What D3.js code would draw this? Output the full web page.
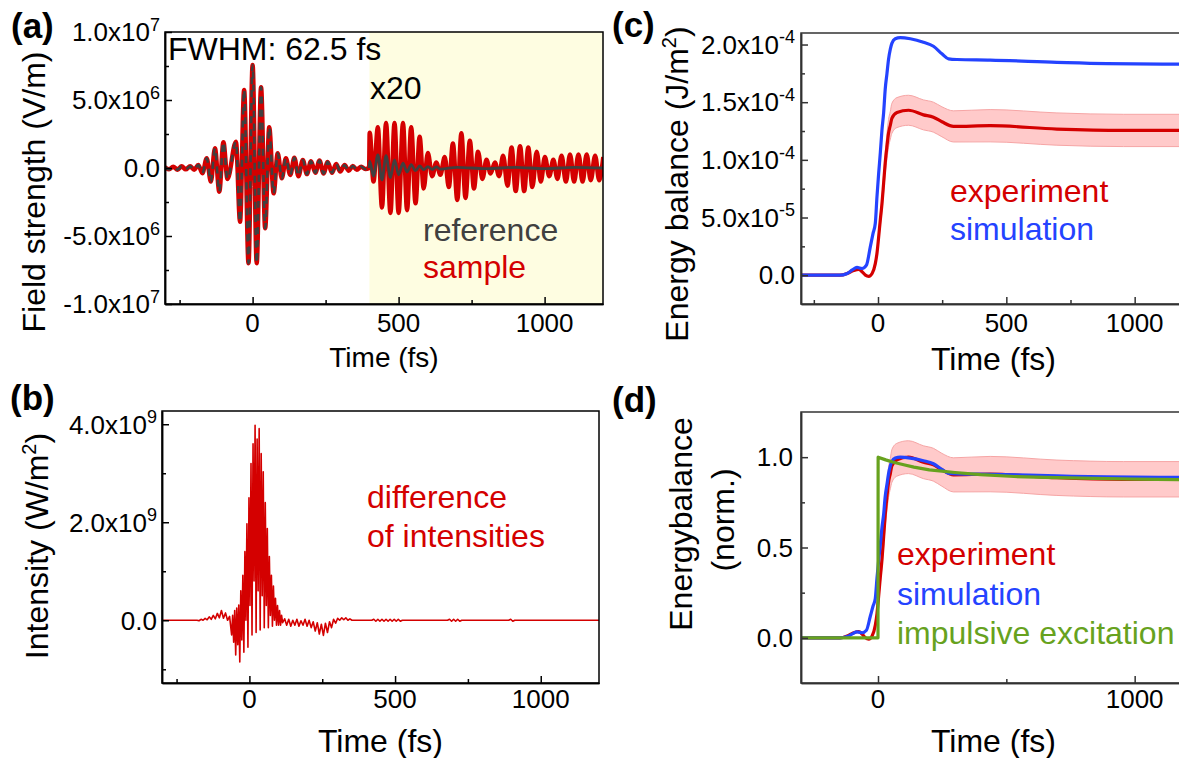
<!DOCTYPE html>
<html><head><meta charset="utf-8">
<script src="https://cdn.jsdelivr.net/npm/d3@7"></script>
<style>
html,body{margin:0;padding:0;background:#fff;}
svg{display:block;font-family:Arial,"Liberation Sans",Helvetica,sans-serif;}
</style></head><body>
<svg id="chart" width="1179" height="758"></svg>
<script>
// ---------------- DATA ----------------
// (a) field extrema, units 1e6 V/m. For t<400 fs reference and sample coincide.
const pulse = [[-300,0.05],[-286,-0.1],[-272,0.1],[-257,-0.12],[-243,0.12],[-229,-0.1],[-214,0.12],[-200,-0.12],[-186,0.22],[-172,-0.39],[-157,0.71],[-143,-1.0],[-129,1.45],[-114,-1.74],[-100,1.9],[-86,-0.8],[-57,1.93],[-43,-3.95],[-29,5.74],[-14,-7.0],[0,7.57],[14,-7.0],[29,5.93],[43,-4.43],[57,2.99],[72,-1.86],[86,1.08],[100,-0.76],[114,0.71],[129,-0.51],[143,0.75],[157,-0.6],[172,0.59],[186,-0.45],[200,0.5],[215,-0.35],[229,0.55],[243,-0.4],[257,0.45],[272,-0.35],[286,0.3],[300,-0.25],[315,0.22],[329,-0.2],[343,0.15],[357,-0.12],[372,0.1],[386,-0.08],[399,0]];
// (a) t >= 400 fs, values as plotted (x20)
const sampleTail = [[401,2.6],[414,-1.0],[429,3.0],[443,-2.9],[457,3.3],[472,-3.3],[486,3.3],[500,-3.3],[515,3.3],[529,-3.1],[543,3.0],[558,-2.6],[572,2.3],[586,-1.5],[600,1.1],[615,-0.6],[629,0.4],[643,-0.5],[658,0.8],[672,-1.4],[686,1.8],[701,-2.35],[715,2.55],[729,-2.2],[744,2.0],[758,-1.5],[772,1.2],[787,-0.8],[801,0.6],[815,-0.4],[830,0.4],[844,-0.6],[858,0.9],[873,-1.3],[887,1.5],[901,-1.7],[916,1.6],[930,-1.7],[944,1.5],[958,-1.4],[973,1.2],[987,-1.0],[1001,0.8],[1016,-0.6],[1030,0.6],[1044,-0.8],[1058,0.9],[1073,-1.0],[1087,1.0],[1101,-1.0],[1116,1.0],[1130,-1.0],[1144,1.0],[1158,-0.9],[1173,0.9],[1187,-0.9],[1201,0.8]];
const refTail = [[399,0],[401,0.5],[414,-0.6],[429,0.96],[443,-0.88],[457,0.9],[472,-0.7],[486,0.6],[500,-0.5],[515,0.35],[529,-0.3],[543,0.25],[558,-0.2],[572,0.15],[586,-0.12],[600,0.1],[615,-0.1],[629,0.08],[643,-0.08],[700,0.05],[800,-0.05],[900,0.05],[1000,-0.05],[1100,0.05],[1200,0]];

// (b) difference of intensities, units 1e9 W/m^2
const diffI = [[-300,0],[-180,0],[-173,-0.01],[-166,0.02],[-159,0],[-152,0.04],[-145,0.01],[-138,0.07],[-131,0.02],[-124,0.1],[-117,0.03],[-110,0.14],[-103,0.05],[-96,0.2],[-89,0.04],[-82,0.15],[-75,0.0],[-68,0.08],
 [-61,-0.3],[-57.5,0.1],[-54,-0.45],[-50.5,0.2],[-47,-0.71],[-43.5,0.25],[-40,-0.5],[-36.5,0.31],[-33,-0.85],[-29.5,0.6],[-26,-0.4],[-22.5,0.92],[-19,-0.65],[-15.5,1.4],[-12,0.0],[-8.5,1.97],[-5,-0.55],[-1.5,2.5],[2,0.3],[5.5,3.2],[9,-0.3],[12.5,3.6],[16,0.8],[19.5,3.98],[23,-0.25],[26.5,3.7],[30,0.6],[33.5,3.91],[37,-0.2],[40.5,3.4],[44,0.5],[47.5,3.03],[51,-0.15],[54.5,2.4],[58,0.3],[61.5,1.87],[65,-0.15],[68.5,1.3],[72,0.1],[75.5,0.92],[79,-0.12],[82.5,0.7],[86,0.0],[89.5,0.45],[93,-0.1],[96.5,0.3],[100,-0.1],[103.5,0.2],[107,-0.1],[110.5,0.1],[114,-0.05],
 [121,0.03],[128,-0.1],[135,0.02],[142,-0.12],[149,0.0],[156,-0.1],[163,0.02],[170,-0.12],[177,-0.01],[184,-0.1],[191,0.02],[198,-0.12],[205,0.0],[212,-0.15],[219,-0.03],[226,-0.22],[233,-0.05],[240,-0.28],[247,-0.08],[254,-0.31],[261,-0.06],[268,-0.25],[275,-0.03],[282,-0.15],[289,0.02],[296,-0.06],[303,0.04],[310,0.0],[317,0.05],[324,0.01],[331,0.05],[338,0.0],[345,0.03],[352,0],
 [420,0],[427,0.02],[434,-0.02],[441,0.02],[448,-0.02],[455,0.02],[462,-0.02],[469,0.02],[476,-0.02],[483,0.02],[490,-0.02],[497,0.02],[504,-0.02],[511,0.02],[518,-0.02],[525,0],[680,0],[687,0.02],[694,-0.02],[701,0.02],[708,-0.02],[715,0.02],[722,-0.02],[729,0],[890,0],[897,0.02],[904,-0.02],[911,0],[1200,0]];

// (c) energy balance, units 1e-4 J/m^2
const simE = [[-300,0],[-150,0],[-120,0.015],[-100,0.045],[-82,0.067],[-62,0.058],[-45,0.087],[-30,0.246],[-19.5,0.36],[-10.5,0.45],[-4,0.68],[2.5,0.88],[9,1.06],[15.5,1.26],[22,1.41],[28,1.61],[35,1.75],[41,1.87],[48,1.96],[54,2.01],[67,2.05],[87,2.06],[126,2.05],[177,2.02],[216,1.985],[249,1.92],[275,1.876],[307,1.87],[437,1.865],[697,1.846],[891,1.835],[1200,1.83]];
// experiment: [time, value, error]
const expE = [[-300,0,0],[-147,0,0],[-120,0.015,0],[-95,0.04,0],[-75,0.05,0],[-62,0.03,0],[-49,0.0,0],[-36,-0.01,0],[-23,0.015,0],[-10.5,0.10,0.01],[-4,0.19,0.02],[2.5,0.33,0.03],[9,0.48,0.05],[15.5,0.62,0.06],[22,0.80,0.08],[28,0.97,0.09],[35,1.12,0.11],[41,1.23,0.12],[48,1.30,0.12],[54,1.36,0.13],[74,1.41,0.13],[119,1.43,0.13],[177,1.39,0.13],[216,1.37,0.13],[249,1.33,0.13],[294,1.29,0.135],[437,1.296,0.14],[697,1.267,0.14],[956,1.255,0.14],[1200,1.255,0.14]];

// (d) impulsive excitation (normalized)
const impulsive = [[-300,0],[0,0],[0.5,1.0],[30,0.985],[60,0.972],[100,0.958],[140,0.945],[200,0.93],[300,0.915],[400,0.903],[530,0.893],[650,0.888],[790,0.884],[1000,0.879],[1200,0.875]];

// ticks
const timeMajor = [0,500,1000], timeMinor = [-250,250,750];
const timeMajorD = [0,1000], timeMinorD = [500];
const fieldTicks = [-1e7,-5e6,0,5e6,1e7];
const fieldLabels = [["-1.0","7"],["-5.0","6"],["0.0",""],["5.0","6"],["1.0","7"]];
const fieldMinor = [-7.5e6,-2.5e6,2.5e6,7.5e6];
const intTicks = [0,2e9,4e9];
const intLabels = [["0.0",""],["2.0","9"],["4.0","9"]];
const intMinor = [-1e9,1e9,3e9];
const enTicks = [0,5e-5,1e-4,1.5e-4,2e-4];
const enLabels = [["0.0",""],["5.0","-5"],["1.0","-4"],["1.5","-4"],["2.0","-4"]];
const enMinor = [2.5e-5,7.5e-5,1.25e-4,1.75e-4];
const normTicks = [0,0.5,1.0];
const normLabels = [["0.0",""],["0.5",""],["1.0",""]];
const normMinor = [0.25,0.75];

// ---------------- STYLE ----------------
const RED = "#D40000", BLUE = "#2443FF", GREEN = "#67A21E", GRAY = "#404040";
const svg = d3.select("#chart");

const A = {l:165, r:603, t:32, b:304};
const B = {l:162, r:599, t:411, b:683};
const C = {l:801, r:1186, t:33, b:304};
const D = {l:801, r:1186, t:412, b:683};

const xA = d3.scaleLinear().domain([-300,1200]).range([A.l,A.r]);
const yA = d3.scaleLinear().domain([-1e7,1e7]).range([A.b,A.t]);
const xB = d3.scaleLinear().domain([-300,1200]).range([B.l,B.r]);
const yB = d3.scaleLinear().domain([-1.28e9,4.27e9]).range([B.b,B.t]);
const xC = d3.scaleLinear().domain([-300,1200]).range([C.l,C.r]);
const yC = d3.scaleLinear().domain([-2.5e-5,2.1e-4]).range([C.b,C.t]);
const xD = d3.scaleLinear().domain([-300,1200]).range([D.l,D.r]);
const yD = d3.scaleLinear().domain([-0.25,1.25]).range([D.b,D.t]);

function clip(id, box){
  svg.append("clipPath").attr("id",id).append("rect")
    .attr("x",box.l).attr("y",box.t).attr("width",box.r-box.l).attr("height",box.b-box.t);
}
clip("clipA",A); clip("clipB",B); clip("clipC",C); clip("clipD",D);

function axes(box, x, y, xMaj, xMin, yMaj, yMin, col){
  const g = svg.append("g");
  const mk = (sel)=> sel.selectAll("path,line").attr("stroke",col).attr("stroke-width",1.5);
  g.append("g").attr("transform",`translate(0,${box.b})`)
    .call(d3.axisBottom(x).tickValues(xMaj).tickSize(-7).tickSizeOuter(0).tickFormat("")).call(mk);
  g.append("g").attr("transform",`translate(0,${box.b})`)
    .call(d3.axisBottom(x).tickValues(xMin).tickSize(-4).tickSizeOuter(0).tickFormat("")).call(mk);
  g.append("g").attr("transform",`translate(${box.l},0)`)
    .call(d3.axisLeft(y).tickValues(yMaj).tickSize(-7).tickSizeOuter(0).tickFormat("")).call(mk);
  g.append("g").attr("transform",`translate(${box.l},0)`)
    .call(d3.axisLeft(y).tickValues(yMin).tickSize(-4).tickSizeOuter(0).tickFormat("")).call(mk);
  g.append("rect").attr("x",box.l).attr("y",box.t).attr("width",box.r-box.l).attr("height",box.b-box.t)
    .attr("fill","none").attr("stroke",col).attr("stroke-width",1.5);
  return g;
}

function xLabels(x, vals, base){
  svg.append("g").selectAll("text").data(vals).join("text")
    .attr("x",d=>x(d)).attr("y",base).attr("text-anchor","middle")
    .attr("font-size",26).attr("fill","#000").text(d=>d);
}
function yLabels(y, vals, labs, xr){
  const g = svg.append("g");
  vals.forEach((v,i)=>{
    const t = g.append("text").attr("x",xr).attr("y",y(v)+9.3).attr("text-anchor","end")
      .attr("font-size",26).attr("fill","#000");
    const [m,e] = labs[i];
    if(!e){ t.text(m); }
    else {
      t.append("tspan").text(m+"x10");
      t.append("tspan").attr("dy",-10.5).attr("font-size",18).text(e);
    }
  });
}
function vtitle(x, y, size, parts){
  const t = svg.append("text").attr("transform",`translate(${x},${y}) rotate(-90)`)
    .attr("text-anchor","middle").attr("font-size",size).attr("fill","#000");
  parts.forEach(p=>{
    const s = t.append("tspan").text(p.t);
    if(p.sup){ s.attr("dy",-12).attr("font-size",20); }
    if(p.down){ s.attr("dy",12); }
  });
}
function label(x,y,txt,col,size,weight){
  svg.append("text").attr("x",x).attr("y",y).attr("fill",col).attr("font-size",size)
    .attr("font-weight",weight||"normal").text(txt);
}

// ---------------- PANEL (a) ----------------
svg.append("rect").attr("x",xA(400)).attr("y",A.t).attr("width",xA(1200)-xA(400)).attr("height",A.b-A.t)
  .attr("fill","#FEFDE1");
const lineA = d3.line().x(d=>xA(d[0])).y(d=>yA(d[1]*1e6)).curve(d3.curveMonotoneX);
const gA = svg.append("g").attr("clip-path","url(#clipA)");
gA.append("path").attr("d",lineA(pulse.concat(sampleTail))).attr("fill","none")
  .attr("stroke",RED).attr("stroke-width",4.5).attr("stroke-linejoin","round");
gA.append("path").attr("d",lineA(pulse)).attr("fill","none")
  .attr("stroke",GRAY).attr("stroke-width",2.6).attr("stroke-dasharray","7,6");
gA.append("path").attr("d",lineA(refTail)).attr("fill","none")
  .attr("stroke",GRAY).attr("stroke-width",2.8).attr("stroke-linejoin","round");
axes(A,xA,yA,timeMajor,timeMinor,fieldTicks,fieldMinor,"#000");
xLabels(xA,timeMajor,332);
yLabels(yA,fieldTicks,fieldLabels,160);
vtitle(45,192,32,[{t:"Field strength (V/m)"}]);
svg.append("text").attr("x",(A.l+A.r)/2).attr("y",367).attr("text-anchor","middle")
  .attr("font-size",28).text("Time (fs)");
label(168,60,"FWHM: 62.5 fs","#000",32);
label(370,99,"x20","#000",32);
label(423,241,"reference",GRAY,32);
label(423,278,"sample",RED,32);
label(11,38,"(a)","#000",35,"bold");

// ---------------- PANEL (b) ----------------
const lineB = d3.line().x(d=>xB(d[0])).y(d=>yB(d[1]*1e9));
svg.append("g").attr("clip-path","url(#clipB)").append("path").attr("d",lineB(diffI))
  .attr("fill","none").attr("stroke",RED).attr("stroke-width",1.6).attr("stroke-linejoin","round");
axes(B,xB,yB,timeMajor,timeMinor,intTicks,intMinor,"#000");
xLabels(xB,timeMajor,708);
yLabels(yB,intTicks,intLabels,157);
vtitle(48,546,32,[{t:"Intensity (W/m"},{t:"2",sup:true},{t:")",down:true}]);
svg.append("text").attr("x",(B.l+B.r)/2).attr("y",752).attr("text-anchor","middle")
  .attr("font-size",32).text("Time (fs)");
label(367,508,"difference",RED,32);
label(367,547,"of intensities",RED,32);
label(10,410,"(b)","#000",35,"bold");

// ---------------- PANEL (c) ----------------
const gC = svg.append("g").attr("clip-path","url(#clipC)");
const bandC = d3.area().x(d=>xC(d[0])).y0(d=>yC((d[1]-d[2])*1e-4)).y1(d=>yC((d[1]+d[2])*1e-4)).curve(d3.curveMonotoneX);
gC.append("path").attr("d",bandC(expE.filter(d=>d[2]>0))).attr("fill","#FFCACA").attr("stroke","#F6A5A5").attr("stroke-width",1);
const lineC = d3.line().x(d=>xC(d[0])).y(d=>yC(d[1]*1e-4)).curve(d3.curveMonotoneX);
gC.append("path").attr("d",lineC(expE)).attr("fill","none").attr("stroke",RED).attr("stroke-width",3.2);
gC.append("path").attr("d",lineC(simE)).attr("fill","none").attr("stroke",BLUE).attr("stroke-width",3.2);
axes(C,xC,yC,timeMajor,timeMinor,enTicks,enMinor,"#333");
xLabels(xC,timeMajor,332);
yLabels(yC,enTicks,enLabels,795);
vtitle(688,184,32,[{t:"Energy balance (J/m"},{t:"2",sup:true},{t:")",down:true}]);
svg.append("text").attr("x",(C.l+C.r)/2).attr("y",370).attr("text-anchor","middle")
  .attr("font-size",32).text("Time (fs)");
label(950,202,"experiment",RED,32);
label(950,240,"simulation",BLUE,32);
label(612,37,"(c)","#000",35,"bold");

// ---------------- PANEL (d) ----------------
const expPeak = d3.max(expE,d=>d[1]), simPeak = d3.max(simE,d=>d[1]);
const expN = expE.map(d=>[d[0],d[1]/expPeak,d[2]/expPeak]);
const simN = simE.map(d=>[d[0],d[1]/simPeak]);
const gD = svg.append("g").attr("clip-path","url(#clipD)");
const bandD = d3.area().x(d=>xD(d[0])).y0(d=>yD(d[1]-d[2])).y1(d=>yD(d[1]+d[2])).curve(d3.curveMonotoneX);
gD.append("path").attr("d",bandD(expN.filter(d=>d[2]>0))).attr("fill","#FFCACA").attr("stroke","#F6A5A5").attr("stroke-width",1);
const lineD = d3.line().x(d=>xD(d[0])).y(d=>yD(d[1])).curve(d3.curveMonotoneX);
gD.append("path").attr("d",lineD(expN)).attr("fill","none").attr("stroke",RED).attr("stroke-width",3.2);
gD.append("path").attr("d",lineD(simN)).attr("fill","none").attr("stroke",BLUE).attr("stroke-width",3.2);
gD.append("path").attr("d",d3.line().x(d=>xD(d[0])).y(d=>yD(d[1]))(impulsive)).attr("fill","none")
  .attr("stroke",GREEN).attr("stroke-width",3.2).attr("stroke-linejoin","round");
axes(D,xD,yD,timeMajorD,timeMinorD,normTicks,normMinor,"#333");
xLabels(xD,timeMajorD,708);
yLabels(yD,normTicks,normLabels,793);
vtitle(692,524,32,[{t:"Energybalance"}]);
vtitle(734,520,32,[{t:"(norm.)"}]);
svg.append("text").attr("x",(D.l+D.r)/2).attr("y",752).attr("text-anchor","middle")
  .attr("font-size",32).text("Time (fs)");
label(897,565,"experiment",RED,32);
label(897,605,"simulation",BLUE,32);
label(897,644,"impulsive excitation",GREEN,32);
label(612,412,"(d)","#000",35,"bold");
</script>
</body></html>
